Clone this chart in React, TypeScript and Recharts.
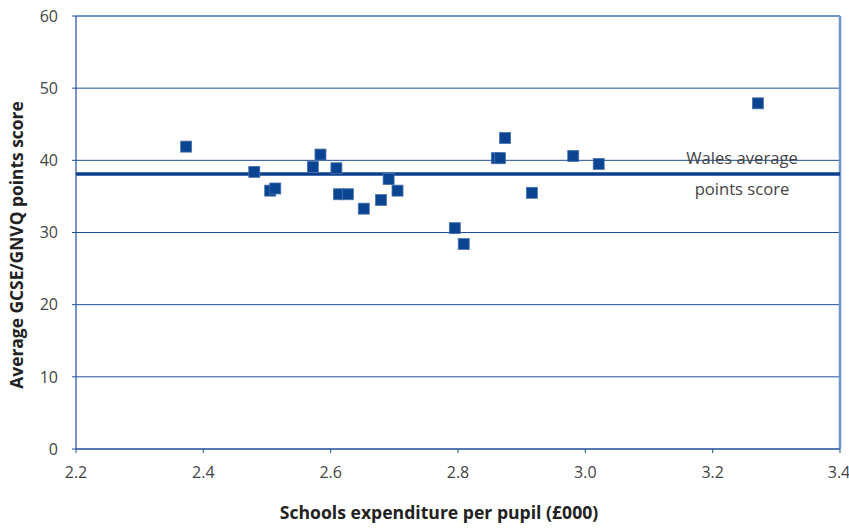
import React from 'react';
import {
  ScatterChart, Scatter, XAxis, YAxis, ZAxis, CartesianGrid, ReferenceLine, Label,
} from 'recharts';

// expenditure (£000) and average points score per authority
const spend = [
  2.373, 2.48, 2.505, 2.513, 2.572, 2.584, 2.609, 2.613, 2.627, 2.652, 2.679,
  2.691, 2.705, 2.795, 2.809, 2.861, 2.866, 2.874, 2.916, 2.981, 3.021, 3.271,
];
const score = [
  41.9, 38.4, 35.8, 36.1, 39.1, 40.8, 38.9, 35.3, 35.3, 33.3, 34.5,
  37.4, 35.8, 30.6, 28.4, 40.3, 40.3, 43.1, 35.5, 40.6, 39.5, 47.9,
];
const walesAverage = 38.1;
const xTicks = [2.2, 2.4, 2.6, 2.8, 3.0, 3.2, 3.4];
const yTicks = [0, 10, 20, 30, 40, 50, 60];

const points = spend.map((x, i) => ({ x, y: score[i] }));

const FONT = '"Open Sans", sans-serif';
const BLUE = '#1d4f98';
const LIGHT = '#6f96c9';

const Square = (props: any) => {
  const { cx, cy } = props;
  if (cx == null || cy == null) return null;
  return <rect x={cx - 5.5} y={cy - 5.5} width={11} height={11} fill="#0b4592" stroke="#4a74b0" strokeWidth={0.8} />;
};

export default function App() {
  return (
    <div style={{ position: 'absolute', left: 0, top: 0, width: 849, height: 529, background: '#fff' }}>
      <ScatterChart width={849} height={529} margin={{ top: 16, right: 9, left: 0, bottom: 0 }}>
        <CartesianGrid vertical={false} stroke={BLUE} strokeWidth={1} />
        <XAxis
          type="number"
          dataKey="x"
          domain={[2.2, 3.4]}
          ticks={xTicks}
          tickFormatter={(v: number) => v.toFixed(1)}
          height={80}
          axisLine={{ stroke: BLUE, strokeWidth: 1.2 }}
          tickLine={{ stroke: BLUE }}
          tickSize={4}
          tickMargin={14}
          tick={{ fill: '#444', fontSize: 16, fontFamily: FONT }}
        >
          <Label
            content={() => (
              <text x={439} y={519} textAnchor="middle" fontFamily={FONT} fontWeight="bold" fontSize={17.6} fill="#222">
                Schools expenditure per pupil (£000)
              </text>
            )}
          />
        </XAxis>
        <YAxis
          type="number"
          dataKey="y"
          domain={[0, 60]}
          ticks={yTicks}
          width={76}
          axisLine={{ stroke: BLUE, strokeWidth: 1.2 }}
          tickLine={{ stroke: BLUE }}
          tickSize={4}
          tickMargin={14}
          tick={{ fill: '#444', fontSize: 16, fontFamily: FONT }}
        >
          <Label
            content={() => (
              <text x={23} y={245} transform="rotate(-90, 23, 245)" textAnchor="middle" fontFamily={FONT} fontWeight="bold" fontSize={17.4} fill="#222">
                Average GCSE/GNVQ points score
              </text>
            )}
          />
        </YAxis>
        <ZAxis range={[121, 121]} />
        <ReferenceLine y={60} stroke={LIGHT} strokeWidth={2} />
        <ReferenceLine x={3.4} stroke={LIGHT} strokeWidth={2.5} />
        <ReferenceLine
          y={walesAverage}
          stroke="#0b3f8e"
          strokeWidth={3.5}
          label={(p: any) => {
            const vb = p.viewBox || {};
            const cx = (vb.x || 0) + (vb.width || 0) - 98;
            const cy = vb.y || 0;
            return (
              <g>
                <text x={cx} y={cy - 10} textAnchor="middle" fontFamily={FONT} fontSize={16.6} fill="#444">Wales average</text>
                <text x={cx} y={cy + 21} textAnchor="middle" fontFamily={FONT} fontSize={16.6} fill="#444">points score</text>
              </g>
            );
          }}
        />
        <Scatter data={points} shape={<Square />} isAnimationActive={false} />
      </ScatterChart>
    </div>
  );
}
